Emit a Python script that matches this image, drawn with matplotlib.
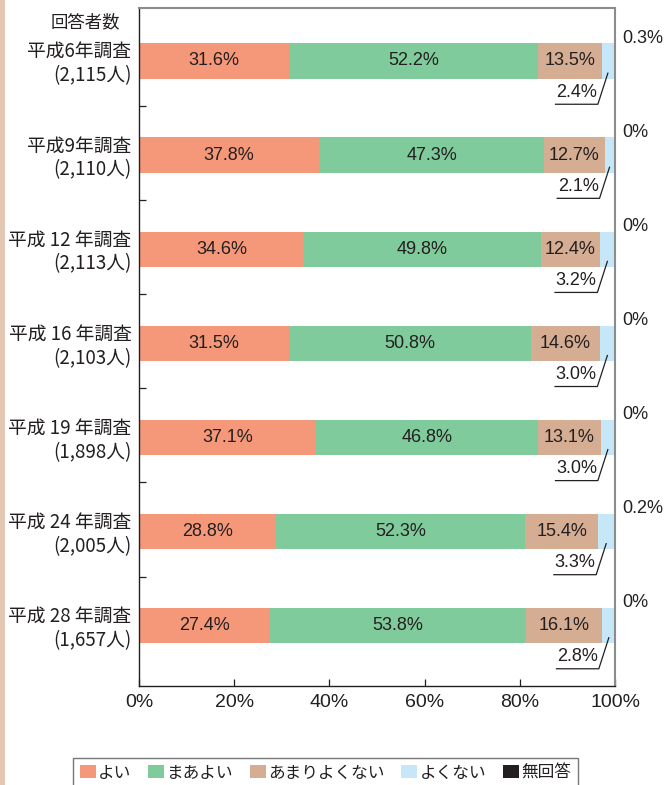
import matplotlib
matplotlib.use("Agg")
import matplotlib.pyplot as plt
from matplotlib.patches import Patch, Rectangle
from matplotlib.lines import Line2D
from matplotlib import font_manager

years = ["平成6年調査", "平成9年調査", "平成 12 年調査", "平成 16 年調査",
         "平成 19 年調査", "平成 24 年調査", "平成 28 年調査"]
counts = ["(2,115人)", "(2,110人)", "(2,113人)", "(2,103人)",
          "(1,898人)", "(2,005人)", "(1,657人)"]
series_names = ["よい", "まあよい", "あまりよくない", "よくない", "無回答"]
yoi = [31.6, 37.8, 34.6, 31.5, 37.1, 28.8, 27.4]
maa_yoi = [52.2, 47.3, 49.8, 50.8, 46.8, 52.3, 53.8]
amari = [13.5, 12.7, 12.4, 14.6, 13.1, 15.4, 16.1]
yokunai = [2.4, 2.1, 3.2, 3.0, 3.0, 3.3, 2.8]
mukaito = [0.3, 0.0, 0.0, 0.0, 0.0, 0.2, 0.0]
xticks = [0, 20, 40, 60, 80, 100]
xticklabels = ["0%", "20%", "40%", "60%", "80%", "100%"]
header = "回答者数"

colors = ["#F5987A", "#80CB9B", "#D5AD93", "#C5E7F7", "#231F20"]
TXT = "#231F20"
JP = ["Noto Sans CJK JP", "DejaVu Sans"]
avail = {f.name for f in font_manager.fontManager.ttflist}
NUM = "Liberation Sans" if "Liberation Sans" in avail else "DejaVu Sans"

fig = plt.figure(figsize=(6.64, 7.85), dpi=100)
fig.patches.append(Rectangle((0, 0), 5 / 664, 1, transform=fig.transFigure,
                             facecolor="#E3C7B4", edgecolor="none", zorder=0))
ax = fig.add_axes([139 / 664, 1 - 686 / 785, 476 / 664, 678 / 785])

series = [yoi, maa_yoi, amari, yokunai, mukaito]
n = len(years)
ypos = list(range(n))
lefts = [0.0] * n
bh = 0.375
for s_i, vals in enumerate(series):
    ax.barh(ypos, vals, left=lefts, height=bh, color=colors[s_i],
            edgecolor="none", zorder=2)
    for i in range(n):
        v = vals[i]
        if s_i < 3:
            ax.text(lefts[i] + v / 2, i, f"{v:.1f}%", ha="center", va="center",
                    fontsize=13, color=TXT, family=NUM, zorder=3)
        elif s_i == 3:
            bc = lefts[i] + v / 2
            xe = bc - 2.1
            ax.add_line(Line2D([xe - 8.9, xe, bc], [i + 0.46, i + 0.46, i + 0.13],
                               color=TXT, lw=0.9, zorder=4, clip_on=False))
            ax.text(xe - 0.2, i + 0.33, f"{v:.1f}%", ha="right", va="center",
                    fontsize=13, color=TXT, family=NUM, zorder=4)
        else:
            lab = "0%" if v == 0 else f"{v:.1f}%"
            ax.text(101.5, i - 0.24, lab, ha="left", va="center",
                    fontsize=13, color=TXT, family=NUM, clip_on=False)
    lefts = [lefts[i] + vals[i] for i in range(n)]

ax.set_xlim(0, 100)
ax.set_ylim(n - 1 + 0.643, -0.563)
ax.set_xticks(xticks)
ax.set_xticklabels(xticklabels, family=NUM, fontsize=14, color=TXT)
ax.tick_params(axis="x", direction="in", length=5, width=0.9, pad=6,
               color=TXT, top=False)
ax.set_yticks([i + 0.48 for i in range(n - 1)])
ax.set_yticklabels([])
ax.tick_params(axis="y", direction="in", length=5, width=0.9, color=TXT)

for sp in ["left", "bottom"]:
    ax.spines[sp].set_color(TXT)
    ax.spines[sp].set_linewidth(1.0)
for sp in ["top", "right"]:
    ax.spines[sp].set_color("#8C8C8C")
    ax.spines[sp].set_linewidth(1.5)

for i in range(n):
    ax.text(-0.016, i + 0.03, years[i] + "\n" + counts[i],
            transform=ax.get_yaxis_transform(), ha="right", va="center",
            multialignment="right", fontsize=13.5, color=TXT, family=JP,
            linespacing=1.2)

fig.text(120 / 664, 1 - 22 / 785, header, ha="right", va="center",
         fontsize=12.5, color=TXT, family=JP)

handles = [Patch(facecolor=c, edgecolor="none") for c in colors]
leg = fig.legend(handles, series_names, loc="upper left",
                 bbox_to_anchor=(73 / 664, 1 - 758 / 785), ncol=5,
                 frameon=True, fancybox=False, edgecolor="#555555",
                 prop={"family": JP, "size": 12}, handlelength=0.96,
                 handleheight=0.84, handletextpad=0.15, columnspacing=1.0,
                 borderpad=0.4, borderaxespad=0)
leg.get_frame().set_linewidth(1.0)
for t in leg.get_texts():
    t.set_color(TXT)

fig.savefig("out.png", dpi=100)
